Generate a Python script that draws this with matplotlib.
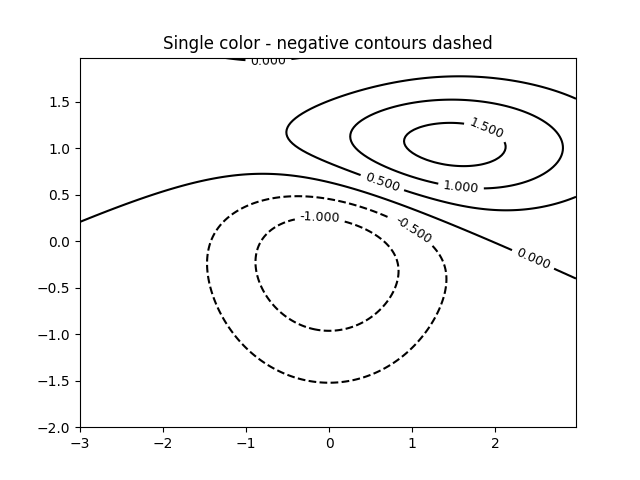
import numpy as np
import matplotlib
matplotlib.use("Agg")
import matplotlib.pyplot as plt

# Grid definition
delta = 0.025
x = np.arange(-3.0, 3.0, delta)
y = np.arange(-2.0, 2.0, delta)

# Two bivariate normal bumps: (sigma_x, sigma_y, mu_x, mu_y), weights
params = [(1.0, 1.0, 0.0, 0.0), (1.5, 0.5, 1.0, 1.0)]
weights = [-10.0, 10.0]

# Approximate label positions
label_positions = [(-0.11, 0.26), (1.01, 0.12), (-0.73, 1.95), (2.46, -0.19),
                   (0.65, 0.65), (1.59, 0.59), (1.90, 1.22)]

X, Y = np.meshgrid(x, y)
Z = np.zeros_like(X)
for (sx, sy, mx, my), w in zip(params, weights):
    Z += w * np.exp(-0.5 * (((X - mx) / sx) ** 2 + ((Y - my) / sy) ** 2)) / (2 * np.pi * sx * sy)

fig, ax = plt.subplots(figsize=(6.4, 4.8), dpi=100)
CS = ax.contour(X, Y, Z, 6, colors='k', linewidths=1.5)
ax.clabel(CS, fontsize=9, inline=True, fmt='%1.3f', manual=label_positions)
ax.set_title('Single color - negative contours dashed')
fig.savefig('out.png', dpi=100)
